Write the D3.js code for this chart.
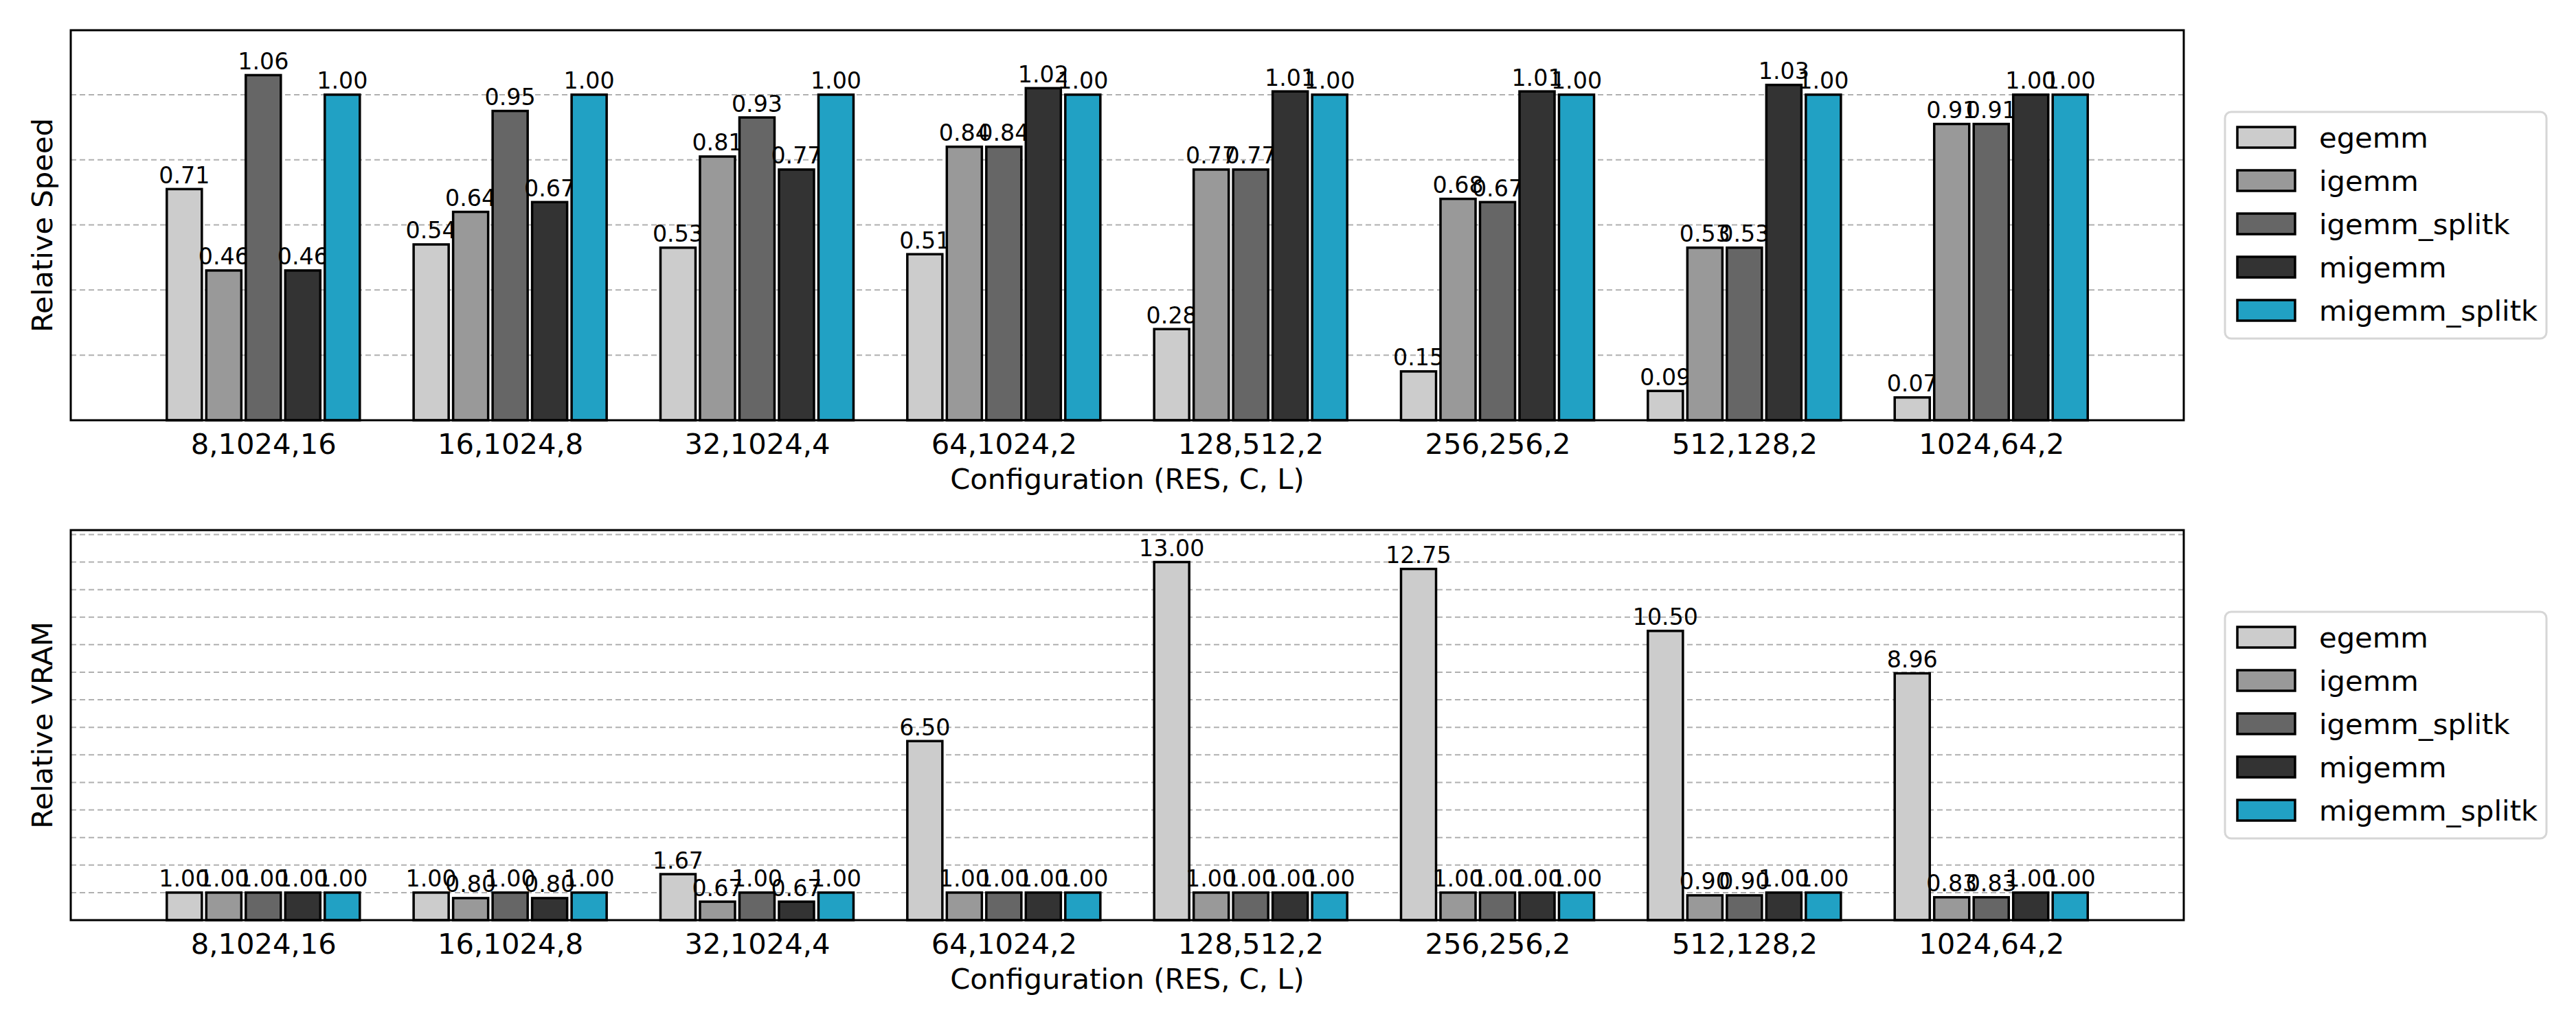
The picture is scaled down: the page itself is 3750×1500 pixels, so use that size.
<!DOCTYPE html>
<html>
<head>
<meta charset="utf-8">
<script src="https://cdnjs.cloudflare.com/ajax/libs/d3/7.8.5/d3.min.js"></script>
<style>
    body { margin: 0; background: #ffffff; }
    svg { display: block; }
</style>
</head>
<body>
<div id="chart"></div>
<script>

// categories and series
var configurations = ["8,1024,16", "16,1024,8", "32,1024,4", "64,1024,2", "128,512,2", "256,256,2", "512,128,2", "1024,64,2"];
var seriesNames = ["egemm", "igemm", "igemm_splitk", "migemm", "migemm_splitk"];
var seriesColors = ["#cccccc", "#999999", "#666666", "#333333", "#21a1c4"];

// relative speed
var speedEgemm = [0.71, 0.54, 0.53, 0.51, 0.28, 0.15, 0.09, 0.07];
var speedIgemm = [0.46, 0.64, 0.81, 0.84, 0.77, 0.68, 0.53, 0.91];
var speedIgemmSplitk = [1.06, 0.95, 0.93, 0.84, 0.77, 0.67, 0.53, 0.91];
var speedMigemm = [0.46, 0.67, 0.77, 1.02, 1.01, 1.01, 1.03, 1.00];
var speedMigemmSplitk = [1.00, 1.00, 1.00, 1.00, 1.00, 1.00, 1.00, 1.00];

// relative vram
var vramEgemm = [1.00, 1.00, 1.67, 6.50, 13.00, 12.75, 10.50, 8.96];
var vramIgemm = [1.00, 0.80, 0.67, 1.00, 1.00, 1.00, 0.90, 0.83];
var vramIgemmSplitk = [1.00, 1.00, 1.00, 1.00, 1.00, 1.00, 0.90, 0.83];
var vramMigemm = [1.00, 0.80, 0.67, 1.00, 1.00, 1.00, 1.00, 1.00];
var vramMigemmSplitk = [1.00, 1.00, 1.00, 1.00, 1.00, 1.00, 1.00, 1.00];

// gridline positions (no tick labels on y)
var speedGrid = [0.2, 0.4, 0.6, 0.8, 1.0];
var vramGrid = [1, 2, 3, 4, 5, 6, 7, 8, 9, 10, 11, 12, 13, 14];

var FONT = "'DejaVu Sans', sans-serif";

var svg = d3.select("#chart")
    .append("svg")
    .attr("width", 3750)
    .attr("height", 1500)
    .style("background", "#ffffff");

function d3GroupedBars(value) {

    var width = value.width;
    var height = value.height;

    var g = svg.append("g")
        .attr("transform", "translate(" + value.left + "," + value.top + ")");

    // x: group index, y: value
    var x = d3.scaleLinear()
        .domain([-0.78, 7.78])
        .range([0, width]);

    var y = d3.scaleLinear()
        .domain([0, value.ymax])
        .range([height, 0]);

    // dashed gridlines behind the bars
    g.append("g")
        .selectAll("line")
        .data(value.grid)
        .enter()
        .append("line")
        .attr("x1", 0)
        .attr("x2", width)
        .attr("y1", function (d) { return y(d); })
        .attr("y2", function (d) { return y(d); })
        .attr("stroke", "#b0b0b0")
        .attr("stroke-width", 2)
        .attr("stroke-dasharray", "8,5");

    var pitch = 0.16;
    var barWidth = 0.142;
    var bw = x(barWidth) - x(0);

    value.series.forEach(function (values, s) {

        var offset = (s - 2) * pitch - barWidth / 2;

        var bars = g.append("g");

        bars.selectAll("rect")
            .data(values)
            .enter()
            .append("rect")
            .attr("x", function (d, i) { return x(i + offset); })
            .attr("y", function (d) { return y(d); })
            .attr("width", bw)
            .attr("height", function (d) { return height - y(d); })
            .attr("fill", seriesColors[s])
            .attr("stroke", "#000000")
            .attr("stroke-width", 3.5);

        bars.selectAll("text")
            .data(values)
            .enter()
            .append("text")
            .attr("x", function (d, i) { return x(i + offset) + bw / 2; })
            .attr("y", function (d) { return y(d) - 8.5; })
            .attr("text-anchor", "middle")
            .style("font-family", FONT)
            .style("font-size", "33.3px")
            .style("fill", "#000000")
            .text(function (d) { return d.toFixed(2); });
    });

    // x axis with category labels
    var xaxis = g.append("g")
        .attr("transform", "translate(0," + height + ")")
        .call(d3.axisBottom(x)
            .tickValues(d3.range(configurations.length))
            .tickFormat(function (i) { return configurations[i]; })
            .tickSize(0)
            .tickPadding(19));

    xaxis.select(".domain").remove();
    xaxis.selectAll("text")
        .style("font-family", FONT)
        .style("font-size", "41.7px")
        .style("fill", "#000000");

    // frame
    g.append("rect")
        .attr("x", 0)
        .attr("y", 0)
        .attr("width", width)
        .attr("height", height)
        .attr("fill", "none")
        .attr("stroke", "#000000")
        .attr("stroke-width", 3);

    // axis titles
    g.append("text")
        .attr("x", width / 2)
        .attr("y", height + 100)
        .attr("text-anchor", "middle")
        .style("font-family", FONT)
        .style("font-size", "41.7px")
        .text("Configuration (RES, C, L)");

    g.append("text")
        .attr("transform", "translate(-27," + (height / 2) + ") rotate(-90)")
        .attr("text-anchor", "middle")
        .style("font-family", FONT)
        .style("font-size", "41.7px")
        .text(value.ylabel);

    // legend, centred on the right of the axes
    var legendH = 330;
    var legend = g.append("g")
        .attr("transform", "translate(" + (width + 60) + "," + (height / 2 - legendH / 2) + ")");

    legend.append("rect")
        .attr("width", 468)
        .attr("height", legendH)
        .attr("rx", 9)
        .attr("fill", "#ffffff")
        .attr("stroke", "#d6d6d6")
        .attr("stroke-width", 3);

    var items = legend.selectAll(".legend")
        .data(seriesNames)
        .enter()
        .append("g")
        .attr("class", "legend")
        .attr("transform", function (d, i) { return "translate(0," + (37 + i * 63) + ")"; });

    items.append("rect")
        .attr("x", 18)
        .attr("y", -15)
        .attr("width", 84)
        .attr("height", 30)
        .attr("fill", function (d, i) { return seriesColors[i]; })
        .attr("stroke", "#000000")
        .attr("stroke-width", 3.5);

    items.append("text")
        .attr("x", 137)
        .attr("y", 0)
        .attr("dy", "0.35em")
        .style("font-family", FONT)
        .style("font-size", "41.7px")
        .style("fill", "#000000")
        .text(function (d) { return d; });
}

d3GroupedBars({
    left: 103, top: 44, width: 3076, height: 568,
    ymax: 1.198,
    grid: speedGrid,
    ylabel: "Relative Speed",
    series: [speedEgemm, speedIgemm, speedIgemmSplitk, speedMigemm, speedMigemmSplitk]
});

d3GroupedBars({
    left: 103, top: 772, width: 3076, height: 568,
    ymax: 14.16,
    grid: vramGrid,
    ylabel: "Relative VRAM",
    series: [vramEgemm, vramIgemm, vramIgemmSplitk, vramMigemm, vramMigemmSplitk]
});

</script>
</body>
</html>
